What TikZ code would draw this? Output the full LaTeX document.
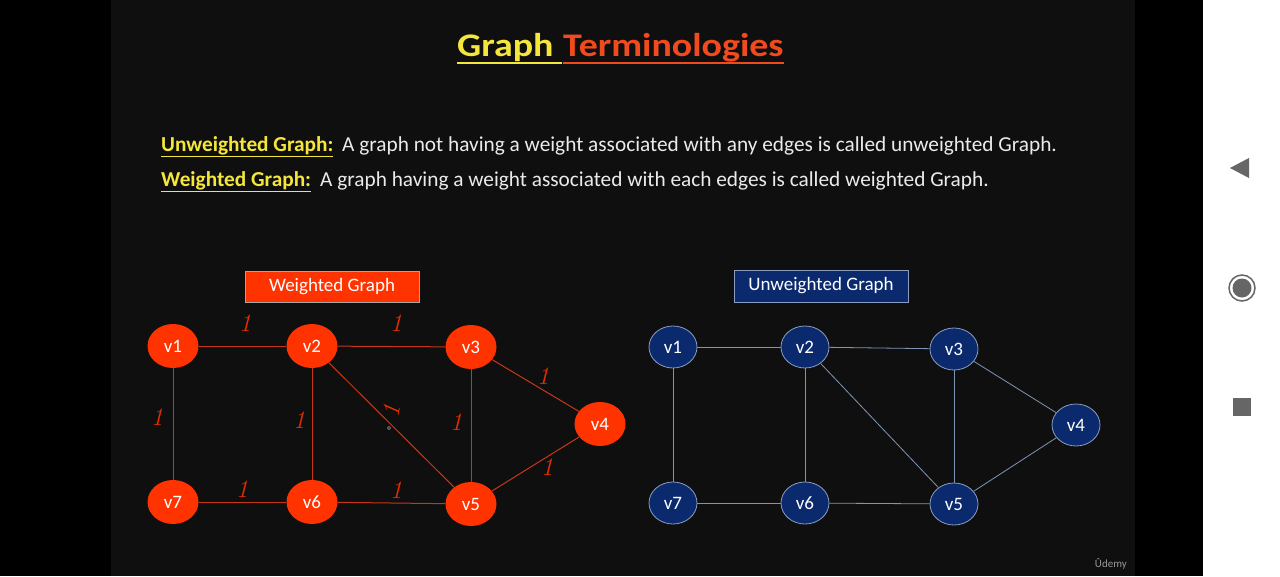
\documentclass[tikz,border=0pt]{standalone}
\usepackage{fontspec}
\setmainfont{Carlito}
\usetikzlibrary{shapes.geometric}
\definecolor{slide}{HTML}{0F0F0F}
\definecolor{ttyellow}{HTML}{F5E63A}
\definecolor{ttred}{HTML}{F04A1E}
\definecolor{wred}{HTML}{FF3300}
\definecolor{redline}{HTML}{C8361A}
\definecolor{navy}{HTML}{0B2A6E}
\definecolor{bborder}{HTML}{8A9CC0}
\definecolor{bline}{HTML}{8095B5}
\definecolor{navgray}{HTML}{666666}
\begin{document}
\begin{tikzpicture}[x=1pt,y=-1pt,
  rv/.style={ellipse, fill=wred, minimum width=51pt, minimum height=44pt, inner sep=0pt, text=white, font=\fontsize{19}{21}\selectfont},
  bv/.style={ellipse, fill=navy, draw=bborder, line width=0.8pt, minimum width=48pt, minimum height=42pt, inner sep=0pt, text=white, font=\fontsize{19}{21}\selectfont},
  redge/.style={draw=redline, line width=1pt},
  bedge/.style={draw=bline, line width=0.8pt},
  wt/.style={text=wred!90!black, font=\fontfamily{lmr}\fontsize{25}{27}\selectfont\itshape, inner sep=0pt},
  body/.style={anchor=base west, inner sep=0pt, text=white!92!black, font=\fontsize{21.3}{24}\selectfont},
  term/.style={anchor=base west, inner sep=0pt, text=ttyellow, font=\fontsize{21.3}{24}\selectfont\bfseries},
  ttl/.style={anchor=base west, inner sep=0pt, xscale=1.15, font=\fontsize{33}{38}\selectfont\bfseries},
  capbox/.style={line width=0.6pt, minimum width=174pt, minimum height=31pt, text=white, font=\fontsize{19}{21}\selectfont, inner sep=0pt}
]
\useasboundingbox (0,0) rectangle (1280,576);
\fill[black] (0,0) rectangle (1280,576);
\fill[slide] (111,0) rectangle (1135,576);
\fill[white] (1203,0) rectangle (1280,576);

% title
\node[ttl, text=ttyellow] (tg) at (457,56) {Graph};
\node[ttl, text=ttred] (tt) at (563,56) {Terminologies};
\draw[ttyellow, line width=2pt] (457,63) -- (562,63);
\draw[ttred, line width=2pt] (563,63) -- (tt.east |- 0,63);

% definitions
\node[term] (u1) at (161,151) {\underline{Unweighted Graph:}};
\node[body] (u2) at (342,151) {A graph not having a weight associated with any edges is called unweighted Graph.};
\node[term] (w1) at (161,186) {\underline{Weighted Graph:}};
\node[body] (w2) at (320,186) {A graph having a weight associated with each edges is called weighted Graph.};

% captions
\node[capbox, fill=wred, draw=gray!70] (wcap) at (332,286.5) {Weighted Graph};
\node[capbox, fill=navy, draw=bborder, minimum height=32pt] (ucap) at (821,286) {Unweighted Graph};

% weighted graph
\node[rv] (a1) at (173,346) {v1};
\node[rv] (a2) at (312,346) {v2};
\node[rv] (a3) at (471,347) {v3};
\node[rv] (a4) at (600,424) {v4};
\node[rv] (a5) at (471,504) {v5};
\node[rv] (a6) at (312,502) {v6};
\node[rv] (a7) at (173,502) {v7};
\draw[redge] (a1) -- (a2);
\draw[redge] (a2) -- (a3);
\draw[redge] (a3) -- (a4);
\draw[redge] (a4) -- (a5);
\draw[redge] (a5) -- (a6);
\draw[redge] (a6) -- (a7);
\draw[redge] (a7) -- (a1);
\draw[redge] (a2) -- (a6);
\draw[redge] (a2) -- (a5);
\draw[redge] (a3) -- (a5);
\node[wt] (l12) at (245,323) {1};
\node[wt] (l23) at (396,323) {1};
\node[wt] (l34) at (543,376) {1};
\node[wt] (l17) at (157,417) {1};
\node[wt] (l26) at (299,420) {1};
\node[wt, rotate=80] (l25) at (391,411) {1};
\node[wt] (l35) at (456,422) {1};
\node[wt] (l45) at (547,467) {1};
\node[wt] (l67) at (242,489) {1};
\node[wt] (l56) at (396,490) {1};
\draw[gray, line width=0.6pt] (389,428) circle (1.6);

% unweighted graph
\node[bv] (b1) at (673,347) {v1};
\node[bv] (b2) at (805,347) {v2};
\node[bv] (b3) at (954,349) {v3};
\node[bv] (b4) at (1076,425) {v4};
\node[bv] (b5) at (954,504) {v5};
\node[bv] (b6) at (805,503) {v6};
\node[bv] (b7) at (673,503) {v7};
\draw[bedge] (b1) -- (b2);
\draw[bedge] (b2) -- (b3);
\draw[bedge] (b3) -- (b4);
\draw[bedge] (b4) -- (b5);
\draw[bedge] (b5) -- (b6);
\draw[bedge] (b6) -- (b7);
\draw[bedge] (b7) -- (b1);
\draw[bedge] (b2) -- (b6);
\draw[bedge] (b2) -- (b5);
\draw[bedge] (b3) -- (b5);

% logo
\node[anchor=base east, inner sep=0pt, text=gray!80, font=\fontsize{11}{12}\selectfont] (logo) at (1127,567) {Ûdemy};

% navigation bar icons
\fill[navgray] (1230,168) -- (1249,158) -- (1249,178) -- cycle;
\draw[navgray, line width=1.5pt] (1242,288) circle (13);
\fill[navgray] (1242,288) circle (9.5);
\fill[navgray] (1233,398) rectangle (1251,416);
\end{tikzpicture}
\end{document}
